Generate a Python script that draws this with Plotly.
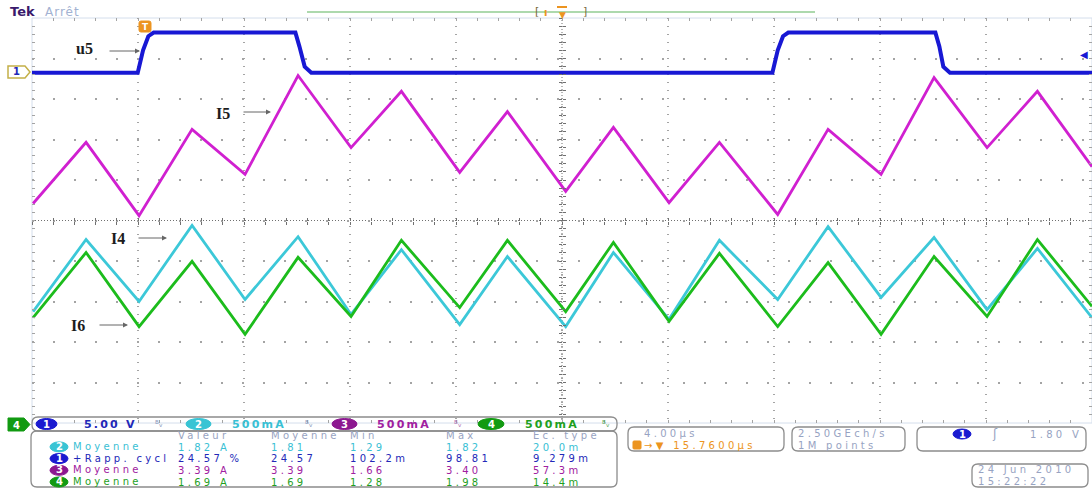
import plotly.graph_objects as go

# ---------------- data (time in µs from trigger, amplitude in screen divisions) ----------------
time_per_div = 4.0          # 4.00 µs/div
trig_pos = 15.76            # horizontal position (µs) of screen centre
n_div = 10

t_u5 = [-4.24, -0.25, -0.05, 0.15, 0.35, 5.7, 5.85, 6.05, 6.3,
        23.7, 23.9, 24.1, 24.3, 29.85, 30.0, 30.15, 30.4, 35.76]
u5_div = [3.65, 3.65, 4.2, 4.55, 4.64, 4.64, 4.3, 3.8, 3.65,
          3.65, 4.2, 4.55, 4.64, 4.64, 4.3, 3.8, 3.65, 3.65]

t_i = [-4.2, -2.2, -0.2, 1.8, 3.8, 5.8, 7.8, 9.7, 11.9, 13.7, 15.9,
       17.7, 19.8, 21.7, 23.9, 25.8, 27.8, 29.8, 31.8, 33.7, 35.76]
i5_div = [0.42, 1.93, 0.12, 2.25, 1.14, 3.58, 1.80, 3.19, 1.19, 2.69, 0.72,
          2.30, 0.44, 1.93, 0.15, 2.25, 1.14, 3.53, 1.80, 3.19, 1.33]
i4_div = [-2.25, -0.47, -2.0, -0.12, -1.95, -0.40, -2.32, -0.72, -2.57, -0.89, -2.62,
          -0.79, -2.44, -0.49, -1.95, -0.15, -1.90, -0.42, -2.20, -0.69, -2.40]
i6_div = [-2.40, -0.79, -2.62, -1.01, -2.81, -0.91, -2.37, -0.49, -2.15, -0.49, -2.25,
          -0.54, -2.49, -0.81, -2.62, -1.04, -2.81, -0.89, -2.37, -0.47, -2.12]

trace_names = ["u5", "I5", "I4", "I6"]

# channel bar
ch_scales = ["5.00 V", "500mA", "500mA", "500mA"]
# measurement table
meas_headers = ["Valeur", "Moyenne", "Min", "Max", "Ec. type"]
meas_ch = ["2", "1", "3", "4"]
meas_labels = ["Moyenne", "+Rapp. cycl", "Moyenne", "Moyenne"]
meas_values = [
    ["1.82 A", "1.81", "1.29", "1.82", "20.0m"],
    ["24.57 %", "24.57", "102.2m", "98.81", "9.279m"],
    ["3.39 A", "3.39", "1.66", "3.40", "57.3m"],
    ["1.69 A", "1.69", "1.28", "1.98", "14.4m"],
]

# ---------------- colours / fonts ----------------
BLUE = "#1818d4"
MAG = "#d020d0"
CYAN = "#3cc8d8"
GREEN = "#1cbc1c"
TXT_BLUE = "#2228b8"
TXT_CYAN = "#38c0d4"
TXT_PURP = "#a020a0"
TXT_GREEN = "#1ea01e"
OV_BLUE = "#1a1ad0"
OV_CYAN = "#38c4d4"
OV_PURP = "#8c1890"
OV_GREEN = "#129a12"
GREYTXT = "#97a3c2"
ORANGE = "#ec9420"
BOXLINE = "#8c8c8c"
UI = "DejaVu Sans"
SP = 3.3   # letter spacing of the scope UI font (px)

W, H = 1092, 488
L, R, T, B = 32, 1092, 18, 423   # plot area in pixels


def px(x):
    return (x - L) / (R - L)


def py(y):
    return (B - y) / (B - T)


x0 = trig_pos - n_div / 2 * time_per_div
x1 = trig_pos + n_div / 2 * time_per_div

fig = go.Figure()

fig.add_trace(go.Scatter(x=t_u5, y=u5_div, mode="lines", line=dict(color=BLUE, width=4),
                         hoverinfo="skip", name="u5"))
fig.add_trace(go.Scatter(x=t_i, y=i5_div, mode="lines", line=dict(color=MAG, width=2.8),
                         hoverinfo="skip", name="I5"))
fig.add_trace(go.Scatter(x=t_i, y=i4_div, mode="lines", line=dict(color=CYAN, width=2.8),
                         hoverinfo="skip", name="I4"))
fig.add_trace(go.Scatter(x=t_i, y=i6_div, mode="lines", line=dict(color=GREEN, width=2.8),
                         hoverinfo="skip", name="I6"))

# invisible traces to activate the centre tick axes
for xa, ya in [("x2", "y"), ("x3", "y"), ("x", "y2"), ("x", "y3")]:
    fig.add_trace(go.Scatter(x=[trig_pos], y=[0], xaxis=xa, yaxis=ya, mode="markers",
                             marker=dict(opacity=0), hoverinfo="skip", showlegend=False))

GRID = "#a4a4a4"
fig.update_layout(
    width=W, height=H,
    margin=dict(l=L, r=W - R, t=T, b=H - B),
    paper_bgcolor="white", plot_bgcolor="white",
    showlegend=False, hovermode=False,
    xaxis=dict(range=[x0, x1], tick0=x0, dtick=time_per_div, showgrid=True,
               gridcolor=GRID, griddash="1px,7px", gridwidth=1.5,
               zeroline=False, showticklabels=False, ticks="inside", ticklen=3,
               tickcolor=GRID, mirror="ticks", showline=False,
               minor=dict(dtick=time_per_div / 5, tick0=x0, ticks="inside", ticklen=3,
                          tickcolor=GRID, showgrid=False)),
    yaxis=dict(range=[-5, 5], tick0=0, dtick=1, showgrid=True, gridcolor=GRID,
               griddash="2px,19px", gridwidth=1.5,
               zeroline=False, showticklabels=False, ticks="inside", ticklen=3,
               tickcolor=GRID, mirror="ticks", showline=False,
               minor=dict(dtick=0.2, tick0=0, ticks="inside", ticklen=3,
                          tickcolor=GRID, showgrid=False)),
    xaxis2=dict(overlaying="x", anchor="free", position=0.5, range=[x0, x1], tick0=x0,
                dtick=time_per_div / 5, ticks="outside", ticklen=3, tickcolor="#707070",
                showticklabels=False, showgrid=False, zeroline=False, showline=False),
    xaxis3=dict(overlaying="x", anchor="free", position=0.5, range=[x0, x1], tick0=x0,
                dtick=time_per_div / 5, ticks="inside", ticklen=3, tickcolor="#707070",
                showticklabels=False, showgrid=False, zeroline=False, showline=False),
    yaxis2=dict(overlaying="y", anchor="free", position=0.5, range=[-5, 5], tick0=0,
                dtick=0.2, ticks="outside", ticklen=3, tickcolor="#707070",
                showticklabels=False, showgrid=False, zeroline=False, showline=False),
    yaxis3=dict(overlaying="y", anchor="free", position=0.5, range=[-5, 5], tick0=0,
                dtick=0.2, ticks="inside", ticklen=3, tickcolor="#707070",
                showticklabels=False, showgrid=False, zeroline=False, showline=False),
)

shapes = []
# centre crosshair
shapes.append(dict(type="line", xref="x", yref="y", x0=x0, x1=x1, y0=0, y1=0,
                   line=dict(color="#707070", width=1, dash="1px,2px"), layer="below"))
shapes.append(dict(type="line", xref="x", yref="y", x0=trig_pos, x1=trig_pos, y0=-5, y1=5,
                   line=dict(color="#707070", width=1, dash="1px,2px"), layer="below"))
# graticule border
shapes.append(dict(type="rect", xref="paper", yref="paper", x0=0, x1=1, y0=0, y1=1,
                   line=dict(color="#d4deec", width=1), layer="below"))


def path_px(cmds):
    out = []
    for c in cmds:
        op = c[0]
        coords = c[1:]
        pts = []
        for i in range(0, len(coords), 2):
            pts.append(f"{px(coords[i]):.5f},{py(coords[i + 1]):.5f}")
        out.append(op + " ".join(pts))
    return " ".join(out)


def rrect(xa, ya, xb, yb, r, color=BOXLINE, width=1.3, fill=None):
    cmds = [("M", xa + r, ya), ("L", xb - r, ya), ("Q", xb, ya, xb, ya + r),
            ("L", xb, yb - r), ("Q", xb, yb, xb - r, yb), ("L", xa + r, yb),
            ("Q", xa, yb, xa, yb - r), ("L", xa, ya + r), ("Q", xa, ya, xa + r, ya)]
    p = path_px(cmds) + " Z"
    d = dict(type="path", xref="paper", yref="paper", path=p,
             line=dict(color=color, width=width))
    if fill:
        d["fillcolor"] = fill
    shapes.append(d)


def txt(s, x, y, color, size=12, anchor="left", family=UI, bold=False, ls=0):
    inner = f"<b>{s}</b>" if bold else s
    if ls:
        inner = f"<span style='letter-spacing:{ls}px'>{inner}</span>"
    fig.add_annotation(text=inner, x=px(x), y=py(y),
                       xref="paper", yref="paper", xanchor=anchor, yanchor="middle",
                       showarrow=False, font=dict(family=family, size=size, color=color))


BASE = 9                 # base font size -> line pitch 1.3*9 = 11.7 px
LS = 1.3 * BASE


def mtxt(lines, x, y_first, anchor="left", size=10, bold=False, ls=SP):
    """multi-line text block; lines = list of (text, colour); y_first = centre of 1st line"""
    parts = []
    for s, c in lines:
        inner = f"<b>{s}</b>" if bold else s
        parts.append(f"<span style='color:{c};font-size:{size}px;letter-spacing:{ls}px'>{inner}</span>")
    yc = y_first + LS * (len(lines) - 1) / 2
    fig.add_annotation(text="<br>".join(parts), x=px(x), y=py(yc), xref="paper", yref="paper",
                       xanchor=anchor, yanchor="middle", align=anchor,
                       showarrow=False, borderpad=0,
                       font=dict(family=UI, size=BASE, color=GREYTXT))


def oval_shape(xa, xb, ya, yb, color):
    shapes.append(dict(type="circle", xref="paper", yref="paper", x0=px(xa), x1=px(xb),
                       y0=py(yb), y1=py(ya), fillcolor=color, line=dict(color=color, width=1)))


def oval(xa, xb, ya, yb, color, label):
    oval_shape(xa, xb, ya, yb, color)
    txt(label, (xa + xb) / 2, (ya + yb) / 2 + 0.5, "white", size=10, anchor="center", bold=True)


# ---- header: Tek Arrêt, record bar, trigger markers ----
txt("Tek", 8, 12, "#3a1a6c", size=13, bold=True)
txt("Arrêt", 43, 12, "#a2b2d2", size=12, ls=1)
shapes.append(dict(type="line", xref="paper", yref="paper", x0=px(307), x1=px(815),
                   y0=py(12), y1=py(12), line=dict(color="#5cb45c", width=1.2)))
txt("[", 537, 12, "#7a6a40", size=11, anchor="center")
txt("]", 585, 12, "#7a6a40", size=11, anchor="center")
txt("ı", 545, 13, ORANGE, size=10, anchor="center", bold=True)
txt("▼", 562, 15, ORANGE, size=9, anchor="center")
shapes.append(dict(type="line", xref="paper", yref="paper", x0=px(557), x1=px(567),
                   y0=py(7), y1=py(7), line=dict(color=ORANGE, width=2)))
# trigger T marker
rrect(139, 21, 151, 32, 2, color=ORANGE, width=1, fill=ORANGE)
txt("T", 145, 27, "white", size=9, anchor="center", bold=True)
# ch1 ground marker
shapes.append(dict(type="path", xref="paper", yref="paper",
                   path=path_px([("M", 8, 66), ("L", 25, 66), ("L", 30, 72), ("L", 25, 78),
                                 ("L", 8, 78)]) + " Z",
                   fillcolor="white", line=dict(color="#c4b048", width=1.5)))
txt("1", 16, 72, TXT_BLUE, size=10, anchor="center", bold=True)
# trigger level marker
txt("◀", 1084, 55, BLUE, size=10, anchor="center")

# ---- trace labels with arrows ----
labels = [("u5", 74, 48, 140, 108, 51), ("I5", 214, 113, 271, 242, 112),
          ("I4", 109, 239, 167, 137, 238), ("I6", 69, 325, 128, 98, 325)]
for name, tx, ty, hx, tailx, ay in labels:
    txt(name, tx, ty, "#1c1c1c", size=16, family="Liberation Serif", bold=True)
    fig.add_annotation(x=px(hx), y=py(ay), xref="paper", yref="paper", text="",
                       showarrow=True, ax=tailx - hx, ay=0, arrowhead=2, arrowsize=1,
                       arrowwidth=1, arrowcolor="#666666", standoff=0)

# ---- channel bar ----
shapes.append(dict(type="path", xref="paper", yref="paper",
                   path=path_px([("M", 8, 418), ("L", 24, 418), ("L", 30, 424.5), ("L", 24, 431),
                                 ("L", 8, 431)]) + " Z",
                   fillcolor=OV_GREEN, line=dict(color=OV_GREEN, width=1)))
txt("4", 16, 425, "white", size=10, anchor="center", bold=True)
rrect(32, 417, 617, 431, 6)
ch_ovals = [(36, 57, OV_BLUE, "1"), (186, 211, OV_CYAN, "2"), (332, 357, OV_PURP, "3"),
            (478, 504, OV_GREEN, "4")]
ch_text_x = [82, 230, 375, 523]
ch_text_col = [TXT_BLUE, TXT_CYAN, TXT_PURP, TXT_GREEN]
bw_x = [159, 309, 458, 606]
bw_col = ["#8a96bc", "#8a96bc", "#b070b4", "#5aa85a"]
for (xa, xb, c, lab), tx, tc, s, bx, bc in zip(ch_ovals, ch_text_x, ch_text_col, ch_scales, bw_x, bw_col):
    oval(xa, xb, 418.5, 429.5, c, lab)
    txt(s, tx, 424, tc, size=11, bold=True, ls=2.2)
    txt("ᴮᵥ", bx, 424, bc, size=9, anchor="center")

# ---- measurement table ----
rrect(31, 431, 617, 487, 6)
HEAD_Y = 435.2
col_x = [177, 270, 349, 445, 532]
row_col = [TXT_CYAN, TXT_BLUE, TXT_PURP, TXT_GREEN]
row_oval = [OV_CYAN, OV_BLUE, OV_PURP, OV_GREEN]
for k, oc in enumerate(row_oval):
    ry = HEAD_Y + LS * (k + 1)
    oval_shape(50, 68, ry - 5, ry + 5, oc)
mtxt([(c, "white") for c in meas_ch], 59, HEAD_Y + LS, anchor="center", size=10, bold=True, ls=0)
mtxt(list(zip(meas_labels, row_col)), 72, HEAD_Y + LS)
for j, (h, cx) in enumerate(zip(meas_headers, col_x)):
    lines = [(h, GREYTXT)] + [(meas_values[i][j], row_col[i]) for i in range(4)]
    mtxt(lines, cx, HEAD_Y)

# ---- right-hand boxes ----
rrect(628, 427, 784, 451, 6)
rrect(633, 441, 641, 449, 1, color=ORANGE, width=1, fill=ORANGE)
mtxt([("4.00µs", GREYTXT), ("→▼ 15.7600µs", ORANGE)], 643, 433.5)

rrect(792, 427, 905, 451, 6)
mtxt([("2.50GEch/s", GREYTXT), ("1M points", GREYTXT)], 797, 433.5)

rrect(917, 427, 1086, 451, 6)
oval(953, 971, 429, 439, OV_BLUE, "1")
txt("ʃ", 995, 434, GREYTXT, size=12, anchor="center")
txt("1.80 V", 1028, 434, GREYTXT, size=10, ls=SP)

rrect(972, 464, 1088, 487, 6)
mtxt([("24 Jun 2010", GREYTXT), ("15:22:22", GREYTXT)], 977, 470)

fig.update_layout(shapes=shapes)
fig.write_html("out.html", config={"displayModeBar": False},
               post_script="document.body.style.margin='0';document.body.style.overflow='hidden';")
